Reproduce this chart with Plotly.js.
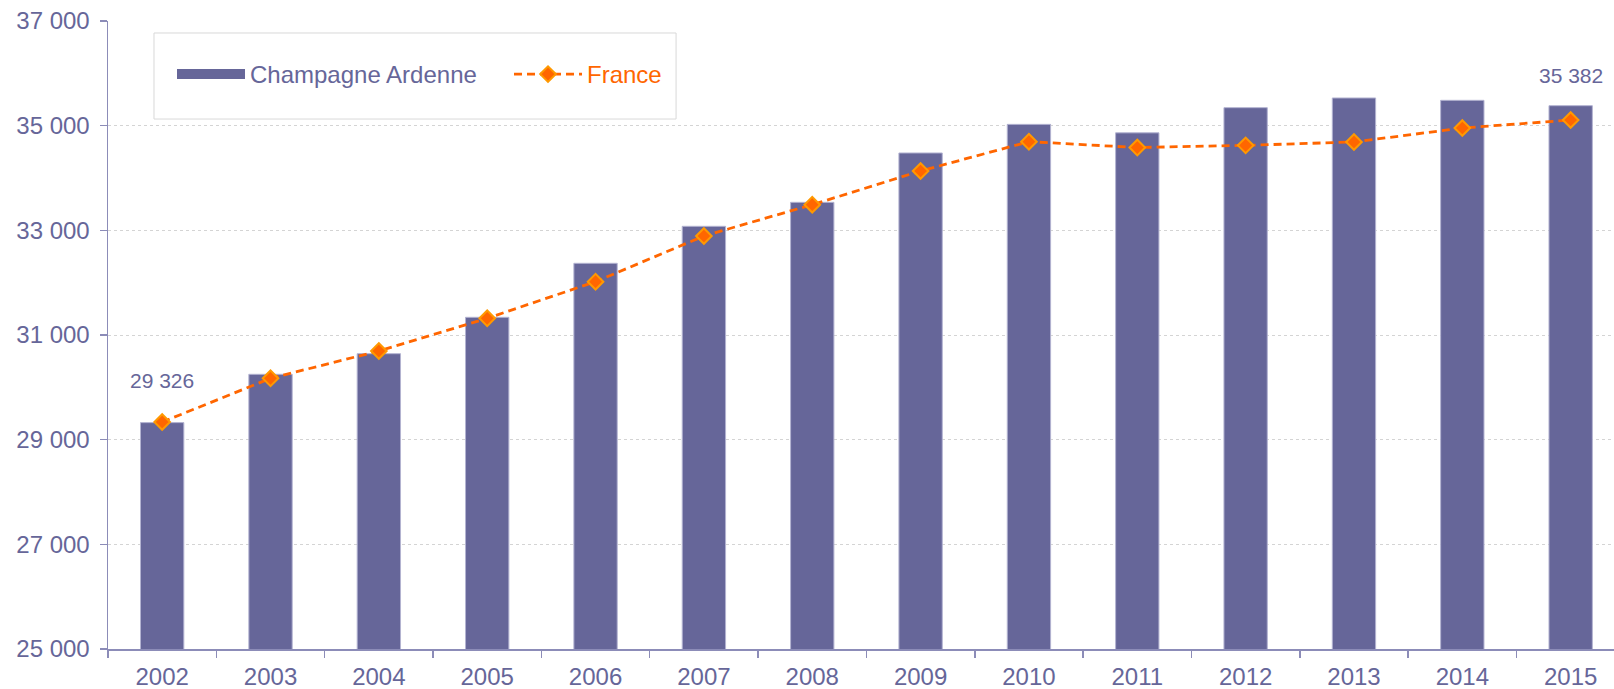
<!DOCTYPE html>
<html>
<head>
<meta charset="utf-8">
<script src="https://cdn.plot.ly/plotly-3.0.1.min.js"></script>
<style>html,body{margin:0;padding:0;background:#fff;}#chart{width:1614px;height:689px;}</style>
</head>
<body>
<div id="chart"></div>
<script>
const years = ['2002','2003','2004','2005','2006','2007','2008','2009','2010','2011','2012','2013','2014','2015'];
const champagneArdenne = [29326, 30249, 30643, 31338, 32370, 33077, 33535, 34478, 35025, 34863, 35344, 35529, 35484, 35382];
const france = [29337, 30172, 30694, 31319, 32019, 32892, 33490, 34134, 34694, 34582, 34624, 34688, 34955, 35108];

const fmt = n => String(n).replace(/\B(?=(\d{3})+(?!\d))/g, ' ');
const PURPLE = '#666699';
const ORANGE = '#ff6600';
const FONT = 'Liberation Sans, Arial, sans-serif';
const first = 0, last = years.length - 1;

const traces = [
  {
    type: 'bar', name: 'Champagne Ardenne', x: years, y: champagneArdenne,
    width: 0.4, marker: {color: PURPLE, line: {color: '#b3b3d1', width: 1}},
    showlegend: false, legendgroup: 'ca', hoverinfo: 'skip'
  },
  {
    type: 'scatter', mode: 'lines', name: 'Champagne Ardenne', x: [years[0]], y: [null],
    line: {color: PURPLE, width: 12}, legendgroup: 'ca', showlegend: true, hoverinfo: 'skip'
  },
  {
    type: 'scatter', mode: 'lines+markers', name: '<span style="color:#ff6600">France</span>',
    x: years, y: france,
    line: {color: ORANGE, width: 2.8, dash: '8px,5px'},
    marker: {symbol: 'diamond', size: 12, color: ORANGE, line: {color: '#ff9900', width: 2}},
    hoverinfo: 'skip'
  }
];

const layout = {
  width: 1614, height: 689,
  margin: {l: 108, r: 0, t: 21, b: 40},
  paper_bgcolor: '#ffffff', plot_bgcolor: '#ffffff',
  font: {family: FONT, color: PURPLE, size: 24},
  separators: ', ',
  showlegend: true,
  legend: {
    orientation: 'h', x: 0.0425, xanchor: 'left', y: 0.9148, yanchor: 'middle',
    bgcolor: 'rgba(0,0,0,0)', borderwidth: 0, itemwidth: 68,
    entrywidth: 254, entrywidthmode: 'pixels',
    font: {family: FONT, size: 24, color: PURPLE}, traceorder: 'normal'
  },
  xaxis: {
    type: 'category', range: [-0.5, 13.4], showgrid: false,
    showline: true, linecolor: '#8c8cb8', linewidth: 1.5,
    ticks: 'outside', ticklen: 7, tickcolor: '#8c8cb8', tickwidth: 1.5, tickson: 'boundaries',
    ticklabelstandoff: 6,
    tickfont: {family: FONT, size: 24, color: PURPLE}, zeroline: false, fixedrange: true
  },
  xaxis2: {
    type: 'linear', overlaying: 'x', anchor: 'y', range: [-0.5, 13.4],
    tickmode: 'linear', tick0: -0.5, dtick: 1,
    ticks: 'inside', ticklen: 7, tickcolor: '#8c8cb8', tickwidth: 1.5,
    showticklabels: false, showgrid: false, showline: false, zeroline: false, fixedrange: true
  },
  yaxis: {
    range: [25000, 37000], tickmode: 'linear', tick0: 25000, dtick: 2000, tickformat: ',d',
    showgrid: true, gridcolor: '#d4d4d4', gridwidth: 1, griddash: 'dot',
    showline: true, linecolor: '#8c8cb8', linewidth: 1.5,
    ticks: 'outside', ticklen: 7, tickcolor: '#8c8cb8', tickwidth: 1.5,
    ticklabelstandoff: 5,
    tickfont: {family: FONT, size: 24, color: PURPLE}, zeroline: false, fixedrange: true
  },
  yaxis2: {
    overlaying: 'y', anchor: 'x', side: 'left', range: [25000, 37000],
    tickmode: 'linear', tick0: 25000, dtick: 2000,
    ticks: 'inside', ticklen: 7, tickcolor: '#8c8cb8', tickwidth: 1.5,
    showticklabels: false, showgrid: false, showline: false, zeroline: false, fixedrange: true
  },
  shapes: [
    {type: 'rect', xref: 'paper', yref: 'paper', x0: 0.03054, x1: 0.3772, y0: 0.8439, y1: 0.9809,
     line: {color: '#d9d9d9', width: 1}, fillcolor: 'rgba(0,0,0,0)', layer: 'below'}
  ],
  annotations: [
    {xref: 'x', yref: 'y', x: first, y: france[first], text: fmt(champagneArdenne[first]), showarrow: false,
     yanchor: 'middle', yshift: 42, font: {family: FONT, size: 21, color: PURPLE}},
    {xref: 'x', yref: 'y', x: last, y: france[last], text: fmt(champagneArdenne[last]), showarrow: false,
     yanchor: 'middle', yshift: 45, font: {family: FONT, size: 21, color: PURPLE}}
  ]
};

Plotly.newPlot('chart', traces, layout, {displayModeBar: false, staticPlot: true});
</script>
</body>
</html>
